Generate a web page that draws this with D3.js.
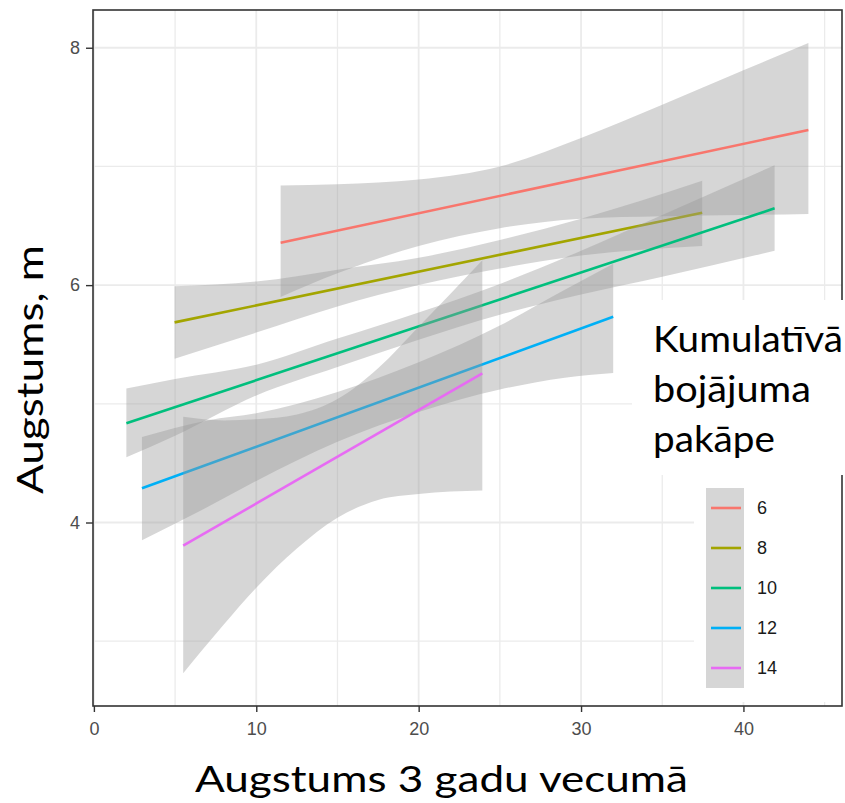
<!DOCTYPE html>
<html lang="lv">
<head>
    <meta charset="UTF-8">
    <script src="https://d3js.org/d3.v7.min.js"></script>
    <style>
        html, body { margin: 0; padding: 0; background: #fff; }
        svg { display: block; }
        .tick text { font-family: "Liberation Sans", Arial, sans-serif; font-size: 18px; fill: #4D4D4D; }
        .tick line { stroke: #333; stroke-width: 1.4px; }
        .domain { display: none; }
        .big { font-family: Lato, "Open Sans", sans-serif; font-size: 37px; fill: #000; }
    </style>
</head>
<body>
<svg id="chart"></svg>
<script>
// kumulatīvā bojājuma pakāpe (groups)
const groups = ["6", "8", "10", "12", "14"];
const colors = ["#F8766D", "#A3A500", "#00BF7D", "#00B0F6", "#E76BF3"];

// fitted line end points
const lineX = [[11.5, 44.0], [4.97, 37.46], [2.0, 41.92], [2.96, 31.98], [5.5, 23.92]];
const lineY = [[6.357, 7.307], [5.686, 6.610], [4.836, 6.647], [4.288, 5.734], [3.805, 5.257]];

// confidence bands
const bandX = [
    [11.5, 15, 20, 25, 30, 35, 40, 44.0],
    [4.97, 10, 15, 20, 25, 30, 37.46],
    [2.0, 5, 10, 15, 20, 25, 30, 35, 41.92],
    [2.96, 7, 10, 15, 20, 25, 29, 31.98],
    [5.5, 8, 10, 12.5, 15, 17.5, 20, 23.92]
];
const bandLo = [
    [5.90, 6.10, 6.33, 6.48, 6.56, 6.58, 6.59, 6.60],
    [5.38, 5.60, 5.82, 6.00, 6.14, 6.25, 6.33],
    [4.55, 4.73, 5.07, 5.31, 5.54, 5.75, 5.92, 6.07, 6.29],
    [3.85, 4.13, 4.35, 4.68, 4.93, 5.12, 5.22, 5.26],
    [2.73, 3.14, 3.45, 3.78, 4.04, 4.19, 4.24, 4.27]
];
const bandHi = [
    [6.84, 6.85, 6.89, 7.00, 7.24, 7.52, 7.81, 8.04],
    [5.99, 6.03, 6.13, 6.23, 6.38, 6.56, 6.88],
    [5.13, 5.21, 5.33, 5.55, 5.77, 6.01, 6.29, 6.59, 7.01],
    [4.72, 4.86, 4.92, 5.10, 5.35, 5.66, 5.96, 6.18],
    [4.89, 4.86, 4.87, 4.91, 5.04, 5.30, 5.65, 6.21]
];

const xTicks = [0, 10, 20, 30, 40];
const xMinor = [5, 15, 25, 35, 45];
const yTicks = [4, 6, 8];
const yMinor = [3, 5, 7];

const xTitle = "Augstums 3 gadu vecumā";
const yTitle = "Augstums, m";
const legendTitle = ["Kumulatīvā", "bojājuma", "pakāpe"];

const width = 845, height = 803;
const panel = { left: 93, right: 842, top: 10, bottom: 706 };

const svg = d3.select("#chart").attr("width", width).attr("height", height);

const x = d3.scaleLinear().domain([-0.055, 46.07]).range([panel.left, panel.right]);
const y = d3.scaleLinear().domain([2.454, 8.318]).range([panel.bottom, panel.top]);

// grid
const grid = svg.append("g");
grid.selectAll(".vminor").data(xMinor).enter().append("line")
    .attr("x1", d => x(d)).attr("x2", d => x(d))
    .attr("y1", panel.top).attr("y2", panel.bottom)
    .attr("stroke", "#EBEBEB").attr("stroke-width", 1.3);
grid.selectAll(".hminor").data(yMinor).enter().append("line")
    .attr("x1", panel.left).attr("x2", panel.right)
    .attr("y1", d => y(d)).attr("y2", d => y(d))
    .attr("stroke", "#EBEBEB").attr("stroke-width", 1.3);
grid.selectAll(".vmajor").data(xTicks).enter().append("line")
    .attr("x1", d => x(d)).attr("x2", d => x(d))
    .attr("y1", panel.top).attr("y2", panel.bottom)
    .attr("stroke", "#EBEBEB").attr("stroke-width", 1.8);
grid.selectAll(".hmajor").data(yTicks).enter().append("line")
    .attr("x1", panel.left).attr("x2", panel.right)
    .attr("y1", d => y(d)).attr("y2", d => y(d))
    .attr("stroke", "#EBEBEB").attr("stroke-width", 1.8);

// smooths: ribbon then line, per group
const area = d3.area()
    .x(d => x(d.x)).y0(d => y(d.lo)).y1(d => y(d.hi))
    .curve(d3.curveMonotoneX);
const line = d3.line().x(d => x(d[0])).y(d => y(d[1]));

groups.forEach((g, i) => {
    const pts = bandX[i].map((v, j) => ({ x: v, lo: bandLo[i][j], hi: bandHi[i][j] }));
    svg.append("path")
        .attr("d", area(pts))
        .attr("fill", "#999999")
        .attr("fill-opacity", 0.4);
    svg.append("path")
        .attr("d", line(lineX[i].map((v, j) => [v, lineY[i][j]])))
        .attr("fill", "none")
        .attr("stroke", colors[i])
        .attr("stroke-width", 2.6);
});

// legend background + keys
const key = d3.scaleBand().domain(groups).range([488, 688]);
svg.append("rect")
    .attr("x", 694).attr("y", 475)
    .attr("width", panel.right - 694).attr("height", 227)
    .attr("fill", "#fff");
svg.append("rect")
    .attr("x", 706).attr("y", key.range()[0])
    .attr("width", 38).attr("height", key.range()[1] - key.range()[0])
    .attr("fill", "#999999").attr("fill-opacity", 0.4);
svg.selectAll(".key").data(groups).enter().append("line")
    .attr("x1", 711).attr("x2", 741)
    .attr("y1", d => key(d) + key.bandwidth() / 2)
    .attr("y2", d => key(d) + key.bandwidth() / 2)
    .attr("stroke", (d, i) => colors[i]).attr("stroke-width", 2.6);
svg.selectAll(".keylab").data(groups).enter().append("text")
    .attr("x", 757)
    .attr("y", d => key(d) + key.bandwidth() / 2)
    .attr("dy", "0.36em")
    .attr("font-family", "Liberation Sans, Arial, sans-serif")
    .attr("font-size", 18)
    .attr("fill", "#1A1A1A")
    .text(d => d);

// panel border
svg.append("rect")
    .attr("x", panel.left).attr("y", panel.top)
    .attr("width", panel.right - panel.left).attr("height", panel.bottom - panel.top)
    .attr("fill", "none").attr("stroke", "#333").attr("stroke-width", 1.6);

// axes
svg.append("g")
    .attr("transform", `translate(0,${panel.bottom})`)
    .call(d3.axisBottom(x).tickValues(xTicks).tickSize(6).tickPadding(10));
svg.append("g")
    .attr("transform", `translate(${panel.left},0)`)
    .call(d3.axisLeft(y).tickValues(yTicks).tickFormat(d3.format("d")).tickSize(7).tickPadding(6));

// axis titles
svg.append("text").attr("class", "big")
    .attr("x", 195).attr("y", 792)
    .attr("textLength", 493).attr("lengthAdjust", "spacingAndGlyphs")
    .text(xTitle);
svg.append("text").attr("class", "big")
    .attr("transform", "translate(43,494) rotate(-90)")
    .attr("textLength", 249).attr("lengthAdjust", "spacingAndGlyphs")
    .text(yTitle);

// legend title on white box
svg.append("rect")
    .attr("x", 632).attr("y", 300)
    .attr("width", width - 632).attr("height", 175)
    .attr("fill", "#fff");
const titleLen = [190, 158, 122];
svg.selectAll(".ltitle").data(legendTitle).enter().append("text")
    .attr("class", "big")
    .attr("x", 653)
    .attr("y", (d, i) => 352 + i * 50)
    .attr("textLength", (d, i) => titleLen[i])
    .attr("lengthAdjust", "spacingAndGlyphs")
    .text(d => d);
</script>
</body>
</html>
